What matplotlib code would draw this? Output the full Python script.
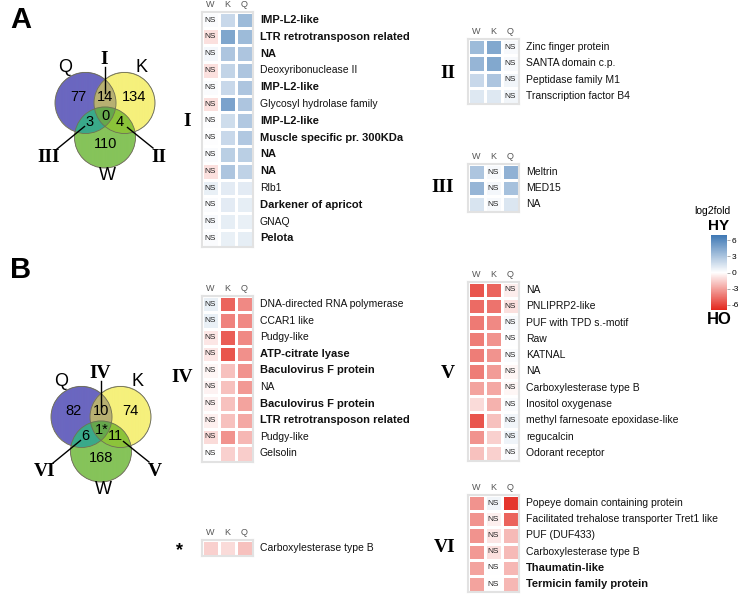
import numpy as np
import matplotlib
matplotlib.use('Agg')
import matplotlib.pyplot as plt
from matplotlib.colors import LinearSegmentedColormap, Normalize, to_rgba
from matplotlib.patches import Circle
from matplotlib.cm import ScalarMappable

plt.rcParams['font.family'] = ['Liberation Sans', 'DejaVu Sans']

# DATA

cols = ['W', 'K', 'Q']

# section I (W not significant)
sec1_labels = ['IMP-L2-like', 'LTR retrotransposon related', 'NA', 'Deoxyribonuclease II',
               'IMP-L2-like', 'Glycosyl hydrolase family', 'IMP-L2-like',
               'Muscle specific pr. 300KDa', 'NA', 'NA', 'Rlb1', 'Darkener of apricot',
               'GNAQ', 'Pelota']
sec1_bold = [1, 1, 1, 0, 1, 0, 1, 1, 1, 1, 0, 1, 0, 1]
sec1_W = [0.2, -1.0, 0.4, -1.0, 0.2, -1.0, 0.1, 0.1, 0.2, -1.0, 0.8, 0.2, 0.3, 0.2]
sec1_K = [2.0, 4.6, 3.0, 2.2, 2.0, 4.8, 1.8, 2.0, 2.5, 3.0, 1.0, 1.0, 0.9, 0.8]
sec1_Q = [3.5, 3.5, 3.0, 3.0, 3.0, 3.0, 2.8, 2.8, 2.5, 2.3, 1.0, 0.9, 0.8, 0.9]

# section II (Q not significant)
sec2_labels = ['Zinc finger protein', 'SANTA domain c.p.', 'Peptidase family M1',
               'Transcription factor B4']
sec2_bold = [0, 0, 0, 0]
sec2_W = [3.5, 3.8, 2.0, 1.2]
sec2_K = [4.5, 4.5, 3.0, 1.2]
sec2_Q = [0.3, 0.3, 0.5, 0.5]

# section III (K not significant)
sec3_labels = ['Meltrin', 'MED15', 'NA']
sec3_bold = [0, 0, 0]
sec3_W = [3.0, 3.8, 1.4]
sec3_K = [0.3, 0.4, 0.3]
sec3_Q = [4.0, 3.2, 1.3]

# section IV (W not significant)
sec4_labels = ['DNA-directed RNA polymerase', 'CCAR1 like', 'Pudgy-like', 'ATP-citrate lyase',
               'Baculovirus F protein', 'NA', 'Baculovirus F protein',
               'LTR retrotransposon related', 'Pudgy-like', 'Gelsolin']
sec4_bold = [0, 0, 0, 1, 1, 0, 1, 1, 0, 0]
sec4_W = [0.8, 0.8, -0.8, -0.8, -0.3, -0.4, -0.4, -0.5, -1.2, 0.0]
sec4_K = [-5.0, -4.0, -5.2, -5.5, -2.0, -2.0, -2.0, -2.0, -3.5, -1.5]
sec4_Q = [-3.8, -3.8, -3.8, -3.6, -3.5, -3.3, -3.0, -2.8, -2.3, -1.6]

# section V (Q not significant)
sec5_labels = ['NA', 'PNLIPRP2-like', 'PUF with TPD s.-motif', 'Raw', 'KATNAL', 'NA',
               'Carboxylesterase type B', 'Inositol oxygenase',
               'methyl farnesoate epoxidase-like', 'regucalcin', 'Odorant receptor']
sec5_bold = [0] * 11
sec5_W = [-5.5, -4.8, -4.3, -4.2, -4.2, -4.2, -3.0, -1.2, -5.5, -3.5, -2.0]
sec5_K = [-5.0, -4.5, -3.8, -3.5, -3.5, -3.2, -2.8, -2.5, -2.0, -1.5, -1.5]
sec5_Q = [-0.6, -1.0, 0.3, 0.0, 0.2, -0.3, -0.3, 0.2, 0.5, 0.6, 0.2]

# section VI (K not significant)
sec6_labels = ['Popeye domain containing protein', 'Facilitated trehalose transporter Tret1 like',
               'PUF (DUF433)', 'Carboxylesterase type B', 'Thaumatin-like',
               'Termicin family protein']
sec6_bold = [0, 0, 0, 0, 1, 1]
sec6_W = [-3.5, -3.5, -3.5, -3.3, -3.0, -3.0]
sec6_K = [0.5, -0.5, -0.8, -1.0, 0.0, 0.0]
sec6_Q = [-6.5, -5.0, -2.2, -2.2, -2.3, -2.3]

# shared by all three (*)
star_labels = ['Carboxylesterase type B']
star_W = [-1.5]
star_K = [-1.2]
star_Q = [-2.0]

# venn diagrams: Q only, K only, W only, QK, QW, KW, QKW
vennA_counts = ['77', '134', '110', '14', '3', '4', '0']
vennB_counts = ['82', '74', '168', '10', '6', '11', '1*']

cbar_ticks = [6, 3, 0, -3, -6]
cbar_ticklabels = ['6', '3', '0', '-3', '-6']

# FIGURE

FW, FH = 740, 597
fig = plt.figure(figsize=(FW / 100, FH / 100), dpi=100)

bg = fig.add_axes([0, 0, 1, 1])
bg.set_xlim(0, FW)
bg.set_ylim(FH, 0)
bg.axis('off')

cmap = LinearSegmentedColormap.from_list('hyho', ['#e3271d', '#ffffff', '#3e78b4'])
norm = Normalize(vmin=-7, vmax=7)


def box(x0, y0, x1, y1):
    # pixel box (top-left origin) -> figure axes
    return fig.add_axes([x0 / FW, 1 - y1 / FH, (x1 - x0) / FW, (y1 - y0) / FH])


def heat(x0, top, row_h, W, K, Q, labels, bold=None, ns=None, width=51):
    vals = np.column_stack([W, K, Q])
    n = len(vals)
    ax = box(x0, top, x0 + width, top + n * row_h)
    ax.pcolormesh(vals, cmap=cmap, norm=norm, edgecolors='white', linewidth=0.8)
    ax.set_xlim(0, 3)
    ax.set_ylim(n, 0)
    ax.xaxis.tick_top()
    ax.set_xticks([0.5, 1.5, 2.5])
    ax.set_xticklabels(cols, fontsize=6.5, color='#555555')
    ax.tick_params(length=0, pad=2)
    ax.set_yticks([])
    for s in ax.spines.values():
        s.set_color('#e2e2e2')
        s.set_linewidth(1.5)
    if bold is None:
        bold = [0] * n
    for i in range(n):
        if ns is not None:
            ax.text(cols.index(ns) + 0.5, i + 0.5, 'NS', ha='center', va='center',
                    fontsize=6, color='#222222')
        ax.text(3.4, i + 0.5, labels[i], ha='left', va='center',
                fontsize=8 if bold[i] else 7.5,
                fontweight='bold' if bold[i] else 'normal', color='#111111')
    return ax


heat(202, 11.6, 16.8, sec1_W, sec1_K, sec1_Q, sec1_labels, sec1_bold, 'W')
heat(468, 39, 16.3, sec2_W, sec2_K, sec2_Q, sec2_labels, sec2_bold, 'Q')
heat(468, 164, 16.0, sec3_W, sec3_K, sec3_Q, sec3_labels, sec3_bold, 'K')
heat(202, 295.7, 16.6, sec4_W, sec4_K, sec4_Q, sec4_labels, sec4_bold, 'W')
heat(468, 281.8, 16.3, sec5_W, sec5_K, sec5_Q, sec5_labels, sec5_bold, 'Q')
heat(468, 495, 16.2, sec6_W, sec6_K, sec6_Q, sec6_labels, sec6_bold, 'K')
heat(202, 540, 16.0, star_W, star_K, star_Q, star_labels)

roman = dict(fontsize=14, fontweight='bold', family='Liberation Serif',
             ha='center', va='center')
bg.text(187, 122, 'I', **roman)
bg.text(448, 73, 'II', **roman)
bg.text(443, 187, 'III', **roman)
bg.text(182, 377, 'IV', **roman)
bg.text(448, 373, 'V', **roman)
bg.text(445, 548, 'VI', **roman)
bg.text(180, 551, '*', fontsize=13, fontweight='bold', ha='center', va='center')

# panel letters
bg.text(10, 20, 'A', fontsize=21, fontweight='bold', va='center')
bg.text(10, 270, 'B', fontsize=21, fontweight='bold', va='center')

# VENN

venn_cols = {'Q': '#6b67c0', 'K': '#f6f07c', 'W': '#86c45a',
             'QK': '#b8b072', 'QW': '#3aa98a', 'KW': '#8cc43a', 'QKW': '#66a84c'}
R = 30.5
ctr_off = {'Q': (0, 0), 'K': (39, 0), 'W': (19.5, 34.5)}
num_off = [(-7.5, -6), (49, -6), (20, 41), (19.5, -6), (4, 19.5), (34, 19.5), (20, 13)]


def venn(ox, oy, counts, labs):
    cq = (ox, oy)
    ck = (ox + ctr_off['K'][0], oy)
    cw = (ox + ctr_off['W'][0], oy + ctr_off['W'][1])
    x0, x1 = ox - R - 2, ck[0] + R + 2
    y0, y1 = oy - R - 2, cw[1] + R + 2
    xx, yy = np.meshgrid(np.linspace(x0, x1, 500), np.linspace(y0, y1, 500))
    inq = (xx - cq[0]) ** 2 + (yy - cq[1]) ** 2 <= R ** 2
    ink = (xx - ck[0]) ** 2 + (yy - ck[1]) ** 2 <= R ** 2
    inw = (xx - cw[0]) ** 2 + (yy - cw[1]) ** 2 <= R ** 2
    img = np.zeros(xx.shape + (4,))
    regions = [(inq & ~ink & ~inw, 'Q'), (ink & ~inq & ~inw, 'K'), (inw & ~inq & ~ink, 'W'),
               (inq & ink & ~inw, 'QK'), (inq & inw & ~ink, 'QW'), (ink & inw & ~inq, 'KW'),
               (inq & ink & inw, 'QKW')]
    for m, key in regions:
        img[m] = to_rgba(venn_cols[key])
    bg.imshow(img, extent=(x0, x1, y1, y0), origin='upper', interpolation='antialiased',
              zorder=1)
    for c in (cq, ck, cw):
        bg.add_patch(Circle(c, R, fill=False, ec='#6f6f55', lw=0.6, zorder=2))
    for (dx, dy), t in zip(num_off, counts):
        bg.text(ox + dx, oy + dy, t, fontsize=10.5, ha='center', va='center', zorder=3)
    bg.text(ox - 20.5, oy - 35, 'Q', fontsize=13, ha='center', va='center')
    bg.text(ox + 56, oy - 35, 'K', fontsize=13, ha='center', va='center')
    bg.text(ox + 22, oy + 72, 'W', fontsize=13, ha='center', va='center')
    # pointers to heatmap sections
    bg.plot([ox + 19, ox + 19], [oy - 36, oy - 10], color='black', lw=1, zorder=3)
    bg.plot([ox - 28.5, ox - 1], [oy + 46, oy + 23.5], color='black', lw=1, zorder=3)
    bg.plot([ox + 42, ox + 67.5], [oy + 24.5, oy + 45], color='black', lw=1, zorder=3)
    bg.text(ox + 19, oy - 44, labs[0], **roman)
    bg.text(ox - 37, oy + 54, labs[1], **roman)
    bg.text(ox + 73.5, oy + 54, labs[2], **roman)


venn(85.5, 103, vennA_counts, ['I', 'III', 'II'])
venn(81.5, 417, vennB_counts, ['IV', 'VI', 'V'])
bg.set_xlim(0, FW)
bg.set_ylim(FH, 0)

# COLORBAR

cax = box(711, 235, 727, 310)
cb = fig.colorbar(ScalarMappable(norm=norm, cmap=cmap), cax=cax, ticks=cbar_ticks)
cb.ax.set_yticklabels(cbar_ticklabels)
cb.outline.set_visible(False)
cb.ax.tick_params(labelsize=6, length=2, width=0.5, color='#888888', pad=1.5)
bg.text(712, 211, 'log2fold', fontsize=7.5, ha='center', va='center')
bg.text(719, 226, 'HY', fontsize=11, fontweight='bold', ha='center', va='center')
bg.text(719, 320, 'HO', fontsize=12, fontweight='bold', ha='center', va='center')

fig.savefig('out.png', dpi=100)
